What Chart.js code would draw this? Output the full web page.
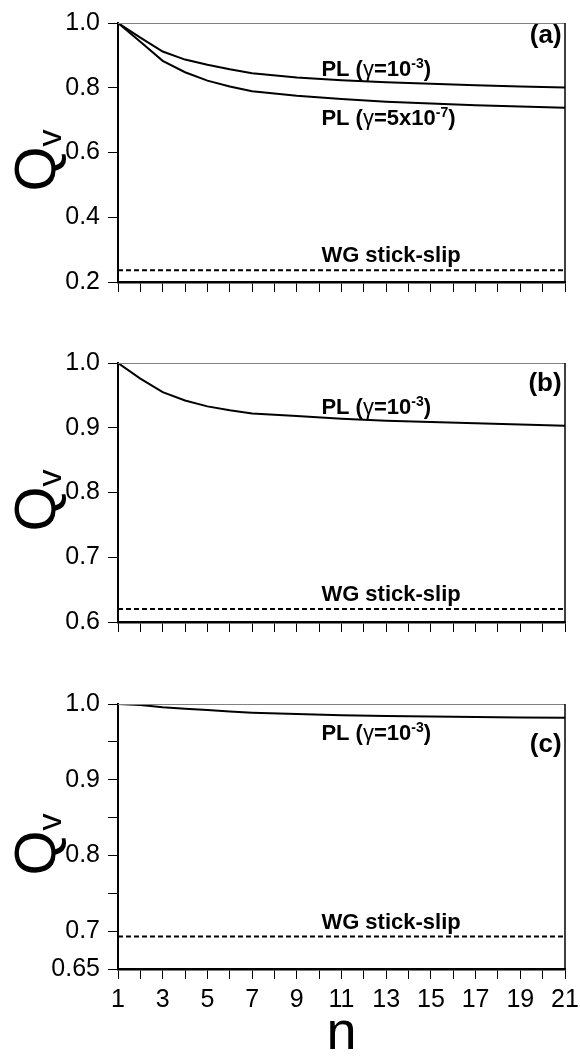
<!DOCTYPE html>
<html>
<head>
<meta charset="utf-8">
<script src="https://cdn.jsdelivr.net/npm/chart.js@4.4.1/dist/chart.umd.min.js"></script>
<style>
  body { margin: 0; background: #fff; }
  canvas.panel { position: absolute; left: 0; }
</style>
</head>
<body>
<canvas id="panelA" class="panel" width="580" height="305" style="top:0px"></canvas>
<canvas id="panelB" class="panel" width="580" height="305" style="top:340px"></canvas>
<canvas id="panelC" class="panel" width="580" height="380" style="top:681px"></canvas>
<script>
// ── DATA ────────────────────────────────────────────────
const nValues = [1, 2, 3, 4, 5, 6, 7, 9, 11, 13, 15, 17, 19, 21];

const qvA_gamma3 = [1.0, 0.955, 0.912, 0.887, 0.871, 0.857, 0.845, 0.832, 0.823, 0.817, 0.812, 0.808, 0.804, 0.801];
const qvA_gamma7 = [1.0, 0.942, 0.883, 0.848, 0.822, 0.804, 0.789, 0.775, 0.765, 0.757, 0.751, 0.746, 0.742, 0.738];
const qvB_gamma3 = [1.0, 0.976, 0.955, 0.942, 0.933, 0.927, 0.922, 0.918, 0.914, 0.911, 0.909, 0.907, 0.905, 0.903];
const qvC_gamma3 = [1.0, 0.9987, 0.9957, 0.9936, 0.992, 0.990, 0.9885, 0.9868, 0.9852, 0.9842, 0.9834, 0.9829, 0.9822, 0.9818];

const wgStickSlipA = 0.236;
const wgStickSlipB = 0.62;
const wgStickSlipC = 0.693;

const nTicks = [1, 2, 3, 4, 5, 6, 7, 8, 9, 10, 11, 12, 13, 14, 15, 16, 17, 18, 19, 20, 21];
const nTickLabels = ['1', '', '3', '', '5', '', '7', '', '9', '', '11', '', '13', '', '15', '', '17', '', '19', '', '21'];
const noTickLabels = nTicks.map(() => '');

const yTicksA = [0.2, 0.4, 0.6, 0.8, 1.0];
const yLabelsA = ['0.2', '0.4', '0.6', '0.8', '1.0'];
const yTicksB = [0.6, 0.7, 0.8, 0.9, 1.0];
const yLabelsB = ['0.6', '0.7', '0.8', '0.9', '1.0'];
const yTicksC = [0.65, 0.7, 0.75, 0.8, 0.85, 0.9, 0.95, 1.0];
const yLabelsC = ['0.65', '0.7', '', '0.8', '', '0.9', '', '1.0'];

const FONT = "'Liberation Sans', Arial, sans-serif";

// ── HELPERS ─────────────────────────────────────────────
function pts(ys) {
  return nValues.map((n, i) => ({ x: n, y: ys[i] }));
}
function flat(v) {
  return [{ x: nTicks[0], y: v }, { x: nTicks[nTicks.length - 1], y: v }];
}

// rich text: parts = [[text, kind]] kind b=bold, g=greek, s=superscript, p=panel tag
function drawRich(ctx, x, y, parts, align) {
  const fonts = {
    b: "bold 22px " + FONT,
    g: "22px " + FONT,
    s: "bold 14px " + FONT,
    p: "bold 26px " + FONT,
  };
  let total = 0;
  parts.forEach(([t, k]) => { ctx.font = fonts[k]; total += ctx.measureText(t).width; });
  let cx = align === "right" ? x - total : x;
  ctx.textAlign = "left";
  ctx.textBaseline = "alphabetic";
  ctx.fillStyle = "#000";
  parts.forEach(([t, k]) => {
    ctx.font = fonts[k];
    ctx.fillText(t, cx, k === "s" ? y - 8 : y);
    cx += ctx.measureText(t).width;
  });
}

const decor = {
  id: "decor",
  afterDraw(chart, args, opts) {
    const { ctx, chartArea: a, scales } = chart;
    ctx.save();
    // top and right frame
    ctx.lineWidth = 1;
    ctx.strokeStyle = "#808080";
    ctx.beginPath();
    ctx.moveTo(a.left, a.top + 0.5);
    ctx.lineTo(a.right, a.top + 0.5);
    ctx.stroke();
    ctx.lineWidth = 1.5;
    ctx.strokeStyle = "#000";
    ctx.beginPath();
    ctx.moveTo(a.right, a.top);
    ctx.lineTo(a.right, a.bottom);
    ctx.stroke();

    (opts.notes || []).forEach((nt) => {
      drawRich(ctx, scales.x.getPixelForValue(nt.x), scales.y.getPixelForValue(nt.y), nt.parts, nt.align);
    });

    // Q_v axis title, rotated
    const yc = (a.top + a.bottom) / 2 + 8;
    ctx.translate(55, yc);
    ctx.rotate(-Math.PI / 2);
    ctx.fillStyle = "#000";
    ctx.textBaseline = "alphabetic";
    ctx.textAlign = "left";
    ctx.font = "58px " + FONT;
    const wQ = ctx.measureText("Q").width;
    ctx.font = "34px " + FONT;
    const wv = ctx.measureText("v").width;
    const x0 = -(wQ + wv) / 2;
    ctx.font = "58px " + FONT;
    ctx.fillText("Q", x0, 0);
    ctx.font = "34px " + FONT;
    ctx.fillText("v", x0 + wQ, 6);
    ctx.restore();
  },
};

function yAxis(ticks, labels) {
  return {
    type: "linear",
    min: ticks[0],
    max: ticks[ticks.length - 1],
    afterBuildTicks: (s) => { s.ticks = ticks.map((v) => ({ value: v })); },
    afterFit: (s) => { s.width = 118; },
    ticks: {
      autoSkip: false,
      callback: (v, i) => labels[i],
      font: { family: FONT, size: 25 },
      color: "#000",
      padding: 8,
    },
    grid: { drawOnChartArea: false, drawTicks: true, tickLength: 10, color: "#000", lineWidth: 1 },
    border: { color: "#000", width: 2 },
  };
}

function xAxis(labels, withTitle) {
  return {
    type: "linear",
    min: nTicks[0],
    max: nTicks[nTicks.length - 1],
    afterBuildTicks: (s) => { s.ticks = nTicks.map((v) => ({ value: v })); },
    afterFit: (s) => {
      s.height = withTitle ? 92 : 16;
      s.paddingLeft = 0;
      s.paddingRight = 0;
    },
    ticks: {
      autoSkip: false,
      maxRotation: 0,
      callback: (v, i) => labels[i],
      font: { family: FONT, size: 25 },
      color: "#000",
      padding: 6,
    },
    grid: { drawOnChartArea: false, drawTicks: true, tickLength: 10, color: "#000", lineWidth: 1 },
    border: { color: "#000", width: 2.5 },
    title: {
      display: withTitle,
      text: "n",
      color: "#000",
      font: { family: FONT, size: 54, lineHeight: 1 },
      padding: 0,
    },
  };
}

const solid = { borderColor: "#000", borderWidth: 2, pointRadius: 0, tension: 0, fill: false };
const dashed = { borderColor: "#000", borderWidth: 2, borderDash: [5, 3], pointRadius: 0, tension: 0, fill: false };

function makePanel(id, datasets, yT, yL, xL, withTitle, notes) {
  return new Chart(document.getElementById(id), {
    type: "line",
    data: { datasets },
    options: {
      responsive: false,
      animation: false,
      events: [],
      layout: { padding: { top: 16, right: 15, bottom: 0, left: 0 } },
      scales: { x: xAxis(xL, withTitle), y: yAxis(yT, yL) },
      plugins: { legend: { display: false }, tooltip: { enabled: false }, decor: { notes } },
    },
    plugins: [decor],
  });
}

const pl3 = [["PL (", "b"], ["γ", "g"], ["=10", "b"], ["-3", "s"], [")", "b"]];
const pl7 = [["PL (", "b"], ["γ", "g"], ["=5x10", "b"], ["-7", "s"], [")", "b"]];
const wg = [["WG stick-slip", "b"]];

makePanel("panelA",
  [{ ...solid, data: pts(qvA_gamma3) }, { ...solid, data: pts(qvA_gamma7) }, { ...dashed, data: flat(wgStickSlipA) }],
  yTicksA, yLabelsA, noTickLabels, false,
  [
    { x: 10.1, y: 0.836, parts: pl3 },
    { x: 10.1, y: 0.686, parts: pl7 },
    { x: 10.1, y: 0.2615, parts: wg },
    { x: 20.85, y: 0.938, parts: [["(a)", "p"]], align: "right" },
  ]);

makePanel("panelB",
  [{ ...solid, data: pts(qvB_gamma3) }, { ...dashed, data: flat(wgStickSlipB) }],
  yTicksB, yLabelsB, noTickLabels, false,
  [
    { x: 10.1, y: 0.921, parts: pl3 },
    { x: 10.1, y: 0.632, parts: wg },
    { x: 20.85, y: 0.956, parts: [["(b)", "p"]], align: "right" },
  ]);

makePanel("panelC",
  [{ ...solid, data: pts(qvC_gamma3) }, { ...dashed, data: flat(wgStickSlipC) }],
  yTicksC, yLabelsC, nTickLabels, true,
  [
    { x: 10.1, y: 0.952, parts: pl3 },
    { x: 10.1, y: 0.703, parts: wg },
    { x: 20.85, y: 0.937, parts: [["(c)", "p"]], align: "right" },
  ]);
</script>
</body>
</html>
